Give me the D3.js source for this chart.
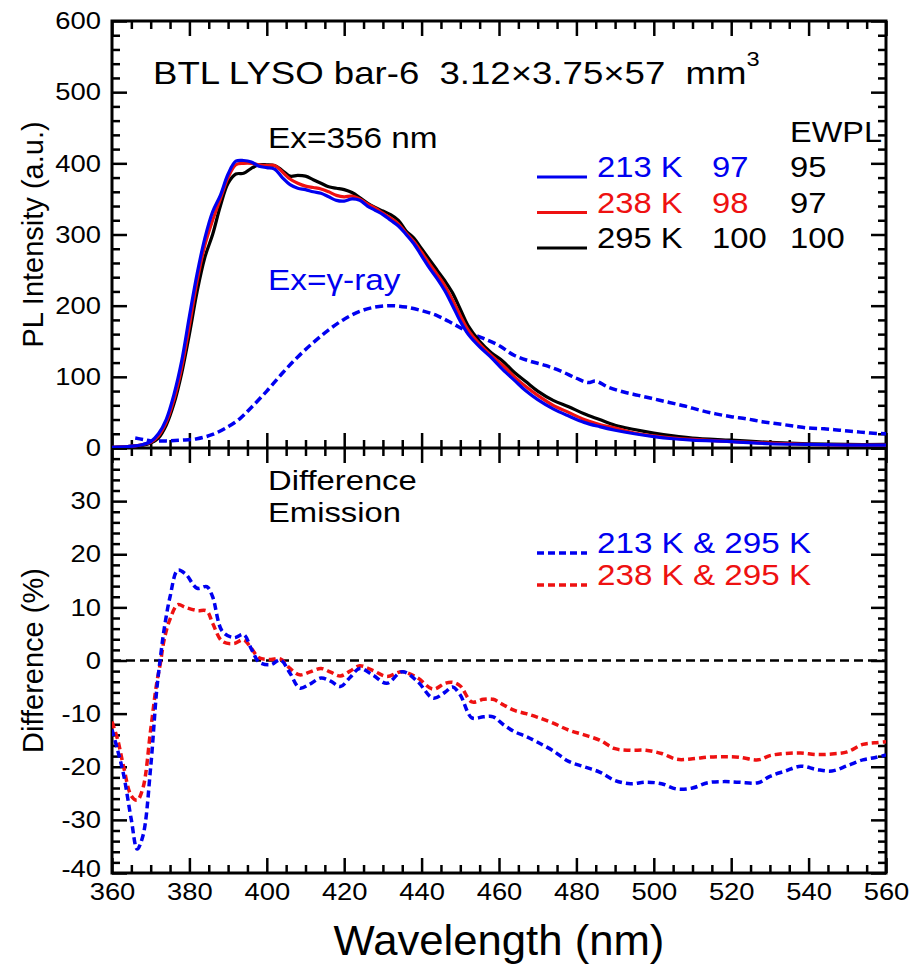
<!DOCTYPE html>
<html lang="en">
<head>
<meta charset="UTF-8">
<title>BTL LYSO bar-6 PL</title>
<script src="https://d3js.org/d3.v7.min.js"></script>
<style>
  body { margin: 0; background: #fff; }
  svg text { font-family: "Liberation Sans", Arial, sans-serif; fill: #000; }
</style>
</head>
<body>
<svg id="chart" width="912" height="967"></svg>
<script>
// ---- data ----
// PL emission, Ex = 356 nm
var emWl = [360, 364, 366, 368, 370, 372, 374, 376, 378, 380,
            382, 384, 386, 388, 390, 392, 394, 396, 398, 400,
            402, 404, 406, 408, 410, 412, 414, 416, 418, 420,
            422, 424, 426, 428, 430, 432, 434, 436, 438, 440,
            442, 444, 446, 448, 450, 452, 455, 458, 461, 464,
            467, 470, 474, 478, 482, 486, 490, 495, 500, 505,
            510, 520, 530, 540, 550, 560];
var em213 = [1, 2, 3, 5, 9, 20, 40, 75, 122, 185,
             245, 295, 332, 355, 385, 403, 404, 402, 396, 394,
             392, 380, 370, 365, 363, 360, 358, 353, 348, 347,
             350, 348, 340, 334, 328, 320, 312, 300, 287, 270,
             253, 238, 221, 200, 178, 160, 142, 127, 110, 95,
             80, 68, 55, 45, 36, 30, 25, 20, 16, 13,
             11, 9, 6, 5, 4, 4];
var em238 = [1, 2, 3, 5, 8, 17, 36, 68, 113, 172,
             235, 285, 320, 350, 380, 398, 400, 400, 398, 397,
             397, 388, 378, 372, 368, 366, 364, 360, 355, 353,
             354, 350, 343, 337, 330, 323, 315, 302, 290, 275,
             259, 244, 228, 208, 186, 166, 146, 130, 116, 100,
             86, 74, 60, 50, 40, 33, 28, 21, 17, 14,
             12, 9, 7, 5, 4, 4];
var em295 = [1, 2, 3, 4, 7, 14, 32, 62, 105, 160,
             220, 268, 300, 340, 372, 385, 386, 393, 398, 398,
             397, 390, 382, 383, 382, 377, 372, 367, 365, 363,
             359, 352, 344, 338, 333, 328, 320, 305, 295, 280,
             265, 250, 235, 218, 195, 172, 150, 134, 122, 106,
             93, 80, 67, 58, 48, 40, 32, 26, 21, 17,
             14, 11, 8, 6, 5, 5];

// gamma-ray excited emission
var gammaWl = [366, 368, 370, 374, 378, 382, 386, 390, 393, 396,
               400, 404, 408, 412, 416, 420, 424, 428, 432, 436,
               440, 444, 448, 452, 456, 460, 464, 468, 472, 476,
               480, 483, 485, 488, 492, 496, 500, 504, 508, 512,
               516, 520, 524, 528, 532, 536, 540, 544, 548, 552,
               556, 560];
var gammaPL = [14, 12, 10, 10, 11, 13, 19, 30, 41, 57,
               80, 105, 128, 148, 166, 181, 192, 198, 200, 198,
               193, 186, 175, 163, 154, 144, 130, 122, 116, 108,
               98, 92, 94, 86, 79, 74, 69, 64, 59, 53,
               48, 44, 41, 37, 34, 31, 28, 27, 25, 23,
               21, 20];

// difference emission (%)
var diffWl = [360, 361.5, 363, 365, 366.5, 368, 370, 371.5, 372.5, 373.5,
              375, 377, 379, 382, 384.5, 386, 388.5, 391.5, 394, 396,
              398, 401, 403.5, 406, 408.5, 411, 414, 416.5, 419, 421.5,
              424, 427.5, 431, 435, 439, 443, 446, 448, 450, 453,
              456, 458.5, 461, 464, 467, 470, 474, 478, 482, 486,
              490, 494, 498, 502, 506, 510, 514, 518, 522, 527,
              530, 534, 538, 542, 546, 550, 554, 557, 560];
var diff213 = [-13, -17, -21.5, -30, -35.5, -33, -20, -6, 0.5, 6,
               12, 17, 16.3, 13.6, 13.9, 12, 5.5, 4.3, 4.9, 2.2,
               -0.3, -0.8, 0.1, -2.4, -5.2, -4.5, -3.3, -3.9, -4.9, -3.2,
               -1.5, -2.8, -4.3, -2.1, -4, -7.1, -6, -5, -6.5, -10.8,
               -10.6, -10.6, -12, -13.4, -14.3, -15.4, -17, -19, -20, -21,
               -22.6, -23.2, -22.9, -23.2, -24.2, -24, -23, -22.8, -22.9, -23,
               -21.8, -20.8, -19.9, -20.5, -20.8, -19.8, -18.7, -18.3, -17.8];
var diff238 = [-11.5, -15, -20, -25.5, -26.3, -24, -13, -4.5, -0.5, 4,
               7.8, 10.5, 10, 9.4, 9.3, 7, 3.6, 3.2, 3.9, 2.3,
               0.5, 0.2, 0.3, -1.5, -2.7, -2.2, -1.5, -2.2, -2.9, -2,
               -1, -1.9, -3, -2.1, -3.3, -5.4, -4.3, -4.1, -4.8, -7.8,
               -7.3, -7.3, -8.3, -9.4, -10, -10.7, -11.8, -13.1, -14, -15,
               -16.6, -16.9, -16.9, -17.5, -18.6, -18.5, -18.2, -18.1, -18.2, -18.7,
               -17.9, -17.5, -17.4, -17.7, -17.6, -17.2, -15.8, -15.5, -15.3];

// legend entries
var tempLabels = ["213 K", "238 K", "295 K"];
var lyValues = ["97", "98", "100"];
var ewplValues = ["95", "97", "100"];
var diffLabels = ["213 K & 295 K", "238 K & 295 K"];

var BLUE = "#0000f0", RED = "#ee1111", BLACK = "#000";
var SX = 1.15;   // the original lettering is a bit wider than Arial

// ---- layout ----
var svg = d3.select("#chart");
var plotL = 112, plotR = 886, topY = 21, midY = 448, botY = 873;

var x = d3.scaleLinear().domain([360, 560]).range([plotL, plotR]);
var yTop = d3.scaleLinear().domain([0, 600]).range([midY, topY]);
var yBot = d3.scaleLinear().domain([-40, 40]).range([botY, midY]);

function notIn(step) { return function(v) { return Math.abs(v % step) > 1e-9; }; }
var xMajor = d3.range(360, 561, 20), xMinor = d3.range(360, 561, 5).filter(notIn(20));
var tMajor = d3.range(0, 601, 100), tMinor = d3.range(0, 601, 20).filter(notIn(100));
var bMajor = d3.range(-40, 41, 10), bMinor = d3.range(-40, 41, 2).filter(notIn(10));

// draws one set of inward ticks
function ticks(axisFn, scale, pos, values, size, fmt, pad) {
  var ax = axisFn(scale).tickValues(values).tickSize(-size).tickSizeOuter(0);
  if (fmt) ax.tickFormat(fmt).tickPadding(pad); else ax.tickFormat("");
  var g = svg.append("g").attr("transform", pos).call(ax);
  g.select(".domain").remove();
  g.attr("font-size", 24).attr("font-family", null);
  g.selectAll(".tick line").attr("stroke", "#000").attr("stroke-width", 2.5);
  g.selectAll(".tick text").style("font-size", "24px")
    .attr("transform", "scale(1.14,1)");
  if (axisFn === d3.axisLeft) g.selectAll(".tick text").attr("x", -pad / 1.14);
  return g;
}

// top panel axes
ticks(d3.axisTop, x, "translate(0," + topY + ")", xMajor, 15);
ticks(d3.axisTop, x, "translate(0," + topY + ")", xMinor, 8);
ticks(d3.axisBottom, x, "translate(0," + midY + ")", xMajor, 15);
ticks(d3.axisBottom, x, "translate(0," + midY + ")", xMinor, 8);
ticks(d3.axisLeft, yTop, "translate(" + plotL + ",0)", tMajor, 15, d3.format("d"), 11);
ticks(d3.axisLeft, yTop, "translate(" + plotL + ",0)", tMinor, 8);
ticks(d3.axisRight, yTop, "translate(" + plotR + ",0)", tMajor, 15);
ticks(d3.axisRight, yTop, "translate(" + plotR + ",0)", tMinor, 8);

// bottom panel axes
ticks(d3.axisTop, x, "translate(0," + midY + ")", xMajor, 15);
ticks(d3.axisTop, x, "translate(0," + midY + ")", xMinor, 8);
ticks(d3.axisBottom, x, "translate(0," + botY + ")", xMajor, 15, d3.format("d"), 10);
ticks(d3.axisBottom, x, "translate(0," + botY + ")", xMinor, 8);
var leftBot = ticks(d3.axisLeft, yBot, "translate(" + plotL + ",0)", bMajor, 15,
      function(d) { return d === 40 ? "" : d; }, 11);
leftBot.selectAll(".tick text").filter(function(d) { return d === -40; }).attr("dy", "0.15em");
ticks(d3.axisLeft, yBot, "translate(" + plotL + ",0)", bMinor, 8);
ticks(d3.axisRight, yBot, "translate(" + plotR + ",0)", bMajor, 15);
ticks(d3.axisRight, yBot, "translate(" + plotR + ",0)", bMinor, 8);

// frames
svg.append("rect").attr("x", plotL).attr("y", topY)
  .attr("width", plotR - plotL).attr("height", botY - topY)
  .attr("fill", "none").attr("stroke", "#000").attr("stroke-width", 3);
svg.append("line").attr("x1", plotL).attr("x2", plotR)
  .attr("y1", midY).attr("y2", midY)
  .attr("stroke", "#000").attr("stroke-width", 3);

// clip paths
var defs = svg.append("defs");
defs.append("clipPath").attr("id", "clipTop").append("rect")
  .attr("x", plotL).attr("y", topY).attr("width", plotR - plotL).attr("height", midY - topY);
defs.append("clipPath").attr("id", "clipBot").append("rect")
  .attr("x", plotL).attr("y", midY).attr("width", plotR - plotL).attr("height", botY - midY);

// ---- curves ----
function lineTop(xs) {
  return d3.line().x(function(d, i) { return x(xs[i]); })
    .y(function(d) { return yTop(d); }).curve(d3.curveCatmullRom);
}
function lineBot(xs) {
  return d3.line().x(function(d, i) { return x(xs[i]); })
    .y(function(d) { return yBot(d); }).curve(d3.curveCatmullRom);
}

var gTop = svg.append("g").attr("clip-path", "url(#clipTop)");
gTop.append("path").attr("d", lineTop(gammaWl)(gammaPL))
  .attr("fill", "none").attr("stroke", BLUE).attr("stroke-width", 3.5)
  .attr("stroke-dasharray", "8,4");
[[em295, BLACK], [em238, RED], [em213, BLUE]].forEach(function(s) {
  gTop.append("path").attr("d", lineTop(emWl)(s[0]))
    .attr("fill", "none").attr("stroke", s[1]).attr("stroke-width", 3.2)
    .attr("stroke-linejoin", "round");
});

var gBot = svg.append("g").attr("clip-path", "url(#clipBot)");
gBot.append("line").attr("x1", plotL).attr("x2", plotR)
  .attr("y1", yBot(0)).attr("y2", yBot(0))
  .attr("stroke", "#000").attr("stroke-width", 2.5).attr("stroke-dasharray", "9,5");
[[diff238, RED], [diff213, BLUE]].forEach(function(s) {
  gBot.append("path").attr("d", lineBot(diffWl)(s[0]))
    .attr("fill", "none").attr("stroke", s[1]).attr("stroke-width", 3.5)
    .attr("stroke-dasharray", "7,4");
});

// ---- texts ----
function label(txt, px, py, size, color, sx) {
  return svg.append("text")
    .attr("transform", "translate(" + px + "," + py + ") scale(" + (sx || SX) + ",1)")
    .style("font-size", size + "px").style("fill", color || "#000").text(txt);
}

var title = label("BTL LYSO bar-6  3.12\u00d73.75\u00d757  mm", 153, 84, 31, "#000", 1.18)
  .style("white-space", "pre");
title.append("tspan").attr("dy", -18).style("font-size", "20px").text("3");

label("Ex=356 nm", 268, 148, 29);
label("Ex=\u03b3-ray", 268, 290, 29, BLUE);
label("EWPL", 790, 142, 29, "#000", 1.12);

var legColors = [BLUE, RED, BLACK];
tempLabels.forEach(function(t, i) {
  var by = 177 + i * 35.5;
  svg.append("line").attr("x1", 537).attr("x2", 587).attr("y1", by).attr("y2", by)
    .attr("stroke", legColors[i]).attr("stroke-width", 3);
  label(t, 597, by, 29, legColors[i], 1.13);
  label(lyValues[i], 712, by, 29, legColors[i], 1.13);
  label(ewplValues[i], 790, by, 29, "#000", 1.13);
});

label("Difference", 268, 490, 28, "#000", 1.17);
label("Emission", 268, 522, 28, "#000", 1.17);

diffLabels.forEach(function(t, i) {
  var by = 553 + i * 32;
  var c = i === 0 ? BLUE : RED;
  svg.append("line").attr("x1", 537).attr("x2", 587).attr("y1", by).attr("y2", by)
    .attr("stroke", c).attr("stroke-width", 3.5).attr("stroke-dasharray", "7,4");
  label(t, 597, by, 29, c, 1.145);
});

// axis titles
svg.append("text").attr("transform", "translate(43," + (topY + midY) / 2 + ") rotate(-90)")
  .attr("text-anchor", "middle").style("font-size", "29px").text("PL Intensity (a.u.)");
svg.append("text").attr("transform", "translate(43," + (midY + botY) / 2 + ") rotate(-90)")
  .attr("text-anchor", "middle").style("font-size", "29px").text("Difference (%)");
svg.append("text")
  .attr("transform", "translate(" + (plotL + plotR) / 2 + ",955) scale(1.04,1)")
  .attr("text-anchor", "middle").style("font-size", "42px").text("Wavelength (nm)");
</script>
</body>
</html>
